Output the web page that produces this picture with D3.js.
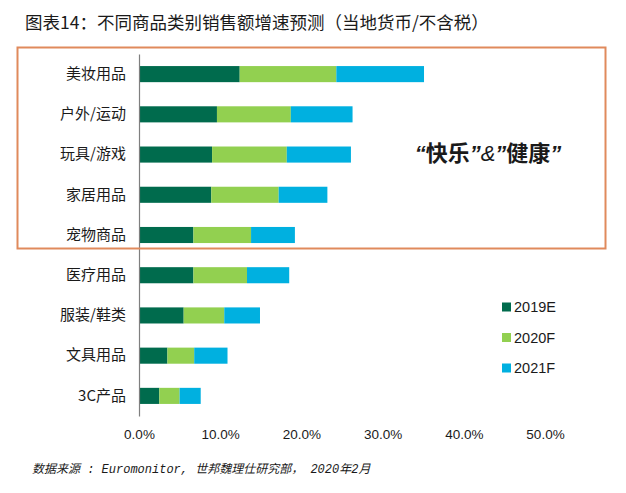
<!DOCTYPE html>
<html>
<head>
<meta charset="utf-8">
<style>
    body { margin: 0; background: #fff; }
    svg text { font-family: "Liberation Sans", "Noto Sans CJK SC", sans-serif; fill: #1a1a1a; }
</style>
</head>
<body>
<svg id="chart" width="626" height="493"></svg>
<script src="https://cdn.jsdelivr.net/npm/d3@7"></script>
<script>
    // data (growth, share of 1)
    let categories = ["美妆用品", "户外/运动", "玩具/游戏", "家居用品", "宠物商品", "医疗用品", "服装/鞋类", "文具用品", "3C产品"]
    let seriesNames = ["2019E", "2020F", "2021F"]
    let v2019 = [0.124, 0.096, 0.090, 0.089, 0.067, 0.067, 0.055, 0.035, 0.025]
    let v2020 = [0.119, 0.091, 0.092, 0.083, 0.071, 0.066, 0.050, 0.033, 0.025]
    let v2021 = [0.108, 0.076, 0.079, 0.060, 0.054, 0.052, 0.044, 0.041, 0.026]
    let xTicks = [0, 0.1, 0.2, 0.3, 0.4, 0.5]
    let colors = ["#006b4d", "#92d050", "#00b0e0"]

    let svg = d3.select("#chart")

    let rows = categories.map((c, i) => ({ cat: c, "2019E": v2019[i], "2020F": v2020[i], "2021F": v2021[i] }))
    let stacked = d3.stack().keys(seriesNames)(rows)

    let xScale = d3.scaleLinear().domain([0, 0.5]).range([139, 545])
    let yScale = d3.scaleBand().domain(categories).range([54, 416])
        .paddingInner(0.6).paddingOuter(0.3)

    // title
    svg.append("text")
        .attr("x", 25).attr("y", 29)
        .style("font-family", "'Noto Sans CJK SC', sans-serif")
        .attr("font-size", 17.5)
        .text("图表14：不同商品类别销售额增速预测（当地货币/不含税）")

    // bars
    svg.selectAll("g.series")
        .data(stacked)
        .enter().append("g")
        .attr("class", "series")
        .attr("fill", (d, i) => colors[i])
        .selectAll("rect")
        .data(d => d)
        .enter().append("rect")
        .attr("x", d => xScale(d[0]))
        .attr("width", d => xScale(d[1]) - xScale(d[0]))
        .attr("y", d => yScale(d.data.cat))
        .attr("height", yScale.bandwidth())

    // category labels
    svg.append("g")
        .attr("transform", "translate(139,0)")
        .call(d3.axisLeft(yScale).tickSize(0).tickPadding(13))
        .call(g => g.select(".domain").attr("stroke", "#7f7f7f").attr("stroke-width", 1.2))
        .call(g => g.selectAll("text").attr("font-size", 15).attr("fill", "#1a1a1a")
            .style("font-family", "'Noto Sans CJK SC', sans-serif"))

    // x tick labels
    svg.append("g")
        .attr("transform", "translate(0,421)")
        .call(d3.axisBottom(xScale).tickValues(xTicks).tickFormat(d3.format(".1%")).tickSize(0).tickPadding(8))
        .call(g => g.select(".domain").remove())
        .call(g => g.selectAll("text").attr("font-size", 13.5).attr("fill", "#1a1a1a")
            .style("font-family", "'Liberation Sans', sans-serif"))

    // orange highlight box
    svg.append("rect")
        .attr("x", 17.5).attr("y", 47.5)
        .attr("width", 588).attr("height", 201)
        .attr("fill", "none")
        .attr("stroke", "#e08a5c")
        .attr("stroke-width", 2)

    let note = svg.append("text")
        .attr("x", 488).attr("y", 161)
        .attr("text-anchor", "middle")
        .attr("font-size", 22)
        .attr("font-weight", "bold")
    let parts = [["“", false], ["快乐", true], ["”", false], ["&", false], ["”", false], ["健康", true], ["”", false]]
    parts.forEach(p => {
        note.append("tspan")
            .style("font-family", p[1] ? "'Noto Sans CJK SC', sans-serif" : "'Liberation Sans', sans-serif")
            .attr("font-weight", p[0] == "&" ? "normal" : "bold")
            .attr("font-style", p[1] ? "normal" : "italic")
            .text(p[0])
    })

    // legend
    let legend = svg.selectAll("g.legend")
        .data(seriesNames)
        .enter().append("g")
        .attr("class", "legend")
        .attr("transform", (d, i) => "translate(502," + (307 + i * 30.5) + ")")
    legend.append("rect")
        .attr("x", 0).attr("y", -4.5)
        .attr("width", 9).attr("height", 9)
        .attr("fill", (d, i) => colors[i])
    legend.append("text")
        .attr("x", 12).attr("y", 5)
        .attr("font-size", 14.5)
        .text(d => d)

    // source note
    svg.append("text")
        .attr("x", 32).attr("y", 473)
        .attr("font-size", 12)
        .attr("font-style", "italic")
        .style("font-family", "'Liberation Mono', 'Noto Sans CJK SC', monospace")
        .attr("fill", "#222")
        .text("数据来源 : Euromonitor, 世邦魏理仕研究部， 2020年2月")
</script>
</body>
</html>
